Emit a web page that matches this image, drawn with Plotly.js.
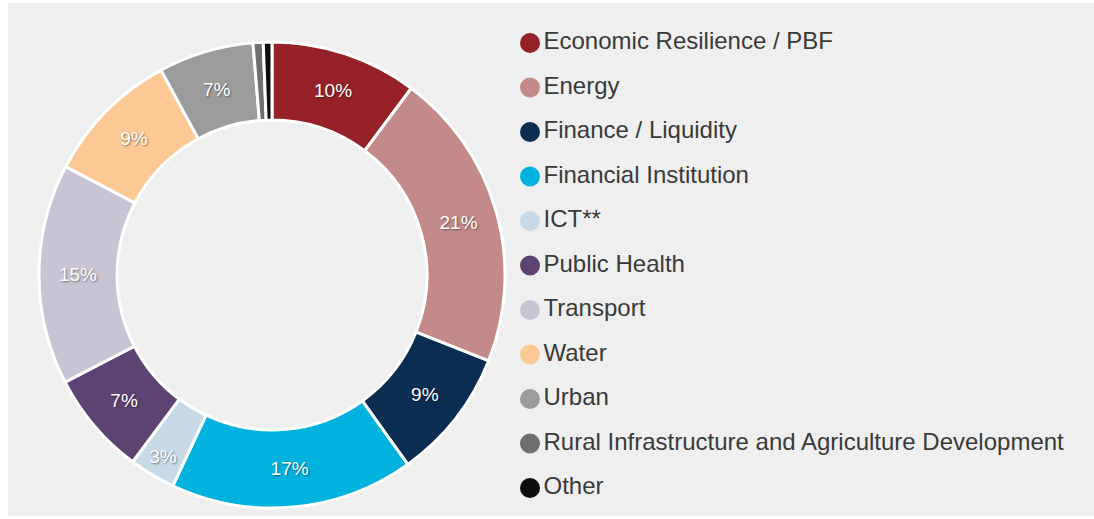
<!DOCTYPE html>
<html>
<head>
<meta charset="utf-8">
<script src="https://cdn.plot.ly/plotly-3.0.1.min.js"></script>
<style>
html,body{margin:0;padding:0;background:#ffffff;}
#chart{width:1094px;height:519px;}
</style>
</head>
<body>
<div id="chart"></div>
<script>
// Sector shares (percent)
const categories = [
  "Economic Resilience / PBF",
  "Energy",
  "Finance / Liquidity",
  "Financial Institution",
  "ICT**",
  "Public Health",
  "Transport",
  "Water",
  "Urban",
  "Rural Infrastructure and Agriculture Development",
  "Other"
];
const shares = [10.2, 20.8, 9.1, 16.9, 3.2, 7.2, 15.3, 9.4, 6.6, 0.7, 0.6];
const shownLabels = ["10%", "21%", "9%", "17%", "3%", "7%", "15%", "9%", "7%", "", ""];
const colors = [
  "#962129", "#c48a89", "#0b2d52", "#00b2dd", "#c7dae8",
  "#5d4372", "#c9c4d4", "#fcc893", "#9c9c9c", "#6f6f6f", "#0d0d0d"
];
const legendIndex = categories.map((c, i) => i);

const pie = {
  type: "pie",
  labels: categories,
  values: shares,
  text: shownLabels,
  textinfo: "text",
  textposition: "inside",
  insidetextorientation: "horizontal",
  sort: false,
  direction: "clockwise",
  rotation: 0,
  hole: 0.665,
  marker: {colors: colors, line: {color: "#ffffff", width: 3}},
  textfont: {family: "Liberation Sans, Arial, sans-serif", size: 19, color: "#ffffff",
             shadow: "1px 1px 2px rgba(0,0,0,0.45)"},
  domain: {x: [39/1094, 505/1094], y: [(519-508)/519, (519-42)/519]},
  showlegend: false,
  hoverinfo: "label+text"
};

const legendTrace = {
  type: "scatter",
  mode: "markers+text",
  x: legendIndex.map(() => 0),
  y: legendIndex,
  text: categories,
  textposition: "middle right",
  textfont: {family: "Liberation Sans, Arial, sans-serif", size: 24, color: "#3a3a3a"},
  marker: {color: colors, size: 20, line: {width: 0}},
  cliponaxis: false,
  showlegend: false,
  hoverinfo: "skip",
  xaxis: "x",
  yaxis: "y"
};

const layout = {
  width: 1094,
  height: 519,
  margin: {l: 0, r: 0, t: 0, b: 0, pad: 0},
  paper_bgcolor: "#ffffff",
  plot_bgcolor: "rgba(0,0,0,0)",
  showlegend: false,
  xaxis: {domain: [530/1094, 1], range: [0, 1], visible: false, fixedrange: true},
  yaxis: {domain: [0, 1], range: [(519-43)/44.5, -43/44.5], visible: false, fixedrange: true},
  shapes: [{
    type: "rect", xref: "paper", yref: "paper",
    x0: 8/1094, x1: 1, y0: 3/519, y1: (519-3)/519,
    fillcolor: "#efefef", line: {width: 0}, layer: "below"
  }]
};

Plotly.newPlot("chart", [pie, legendTrace], layout, {displayModeBar: false, staticPlot: true});
</script>
</body>
</html>
